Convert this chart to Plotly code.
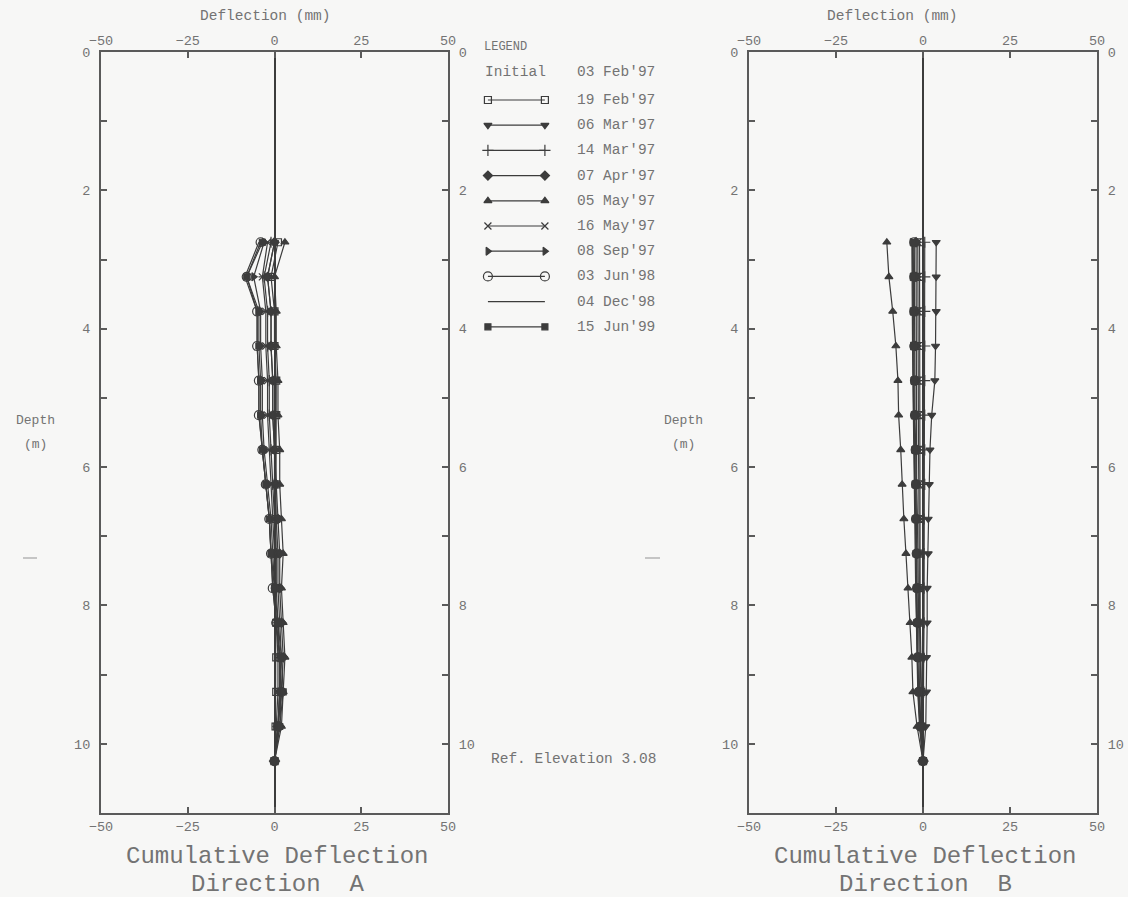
import plotly.graph_objects as go

# Inclinometer reading depths (m)
depths = [2.75, 3.25, 3.75, 4.25, 4.75, 5.25, 5.75, 6.25,
          6.75, 7.25, 7.75, 8.25, 8.75, 9.25, 9.75, 10.25]

initial_date = "03 Feb'97"
survey_dates = ["19 Feb'97", "06 Mar'97", "14 Mar'97", "07 Apr'97", "05 May'97",
                "16 May'97", "08 Sep'97", "03 Jun'98", "04 Dec'98", "15 Jun'99"]

depth_ticks = [0, 1, 2, 3, 4, 5, 6, 7, 8, 9, 10, 11]
depth_tick_text = ["0", "", "2", "", "4", "", "6", "", "8", "", "10", ""]
defl_ticks = [-50, -25, 0, 25, 50]

# Cumulative deflection, direction A (mm)
a_19feb97 = [1.0, -1.0, 0.0, 0.0, 0.5, 0.5, 0.5, 0.5, 0.5, 0.5, 0.5, 0.5, 0.5, 0.5, 0.3, 0.0]
a_06mar97 = [0.0, -2.0, -1.0, -1.0, -0.5, -0.5, 0.0, 0.0, 0.5, 1.0, 1.0, 1.5, 2.0, 1.5, 1.0, 0.0]
a_14mar97 = [-1.0, -3.0, -2.0, -2.0, -1.5, -1.5, -1.0, -0.5, 0.0, 0.5, 0.5, 1.0, 1.5, 1.5, 1.0, 0.0]
a_07apr97 = [0.0, -2.0, -1.0, -1.0, -0.5, -0.5, 0.0, 0.5, 1.0, 1.5, 1.5, 2.0, 2.5, 2.0, 1.5, 0.0]
a_05may97 = [3.0, 0.0, 0.5, 0.5, 1.0, 1.0, 1.5, 1.5, 2.0, 2.5, 2.0, 2.5, 3.0, 2.5, 2.0, 0.0]
a_16may97 = [-2.0, -3.5, -2.5, -2.5, -2.0, -2.0, -1.5, -1.0, -0.5, 0.0, 0.0, 0.5, 1.0, 1.0, 0.5, 0.0]
a_08sep97 = [-3.0, -6.0, -4.0, -4.0, -3.5, -3.5, -3.0, -2.0, -1.0, -0.5, 0.0, 0.5, 1.5, 1.5, 1.0, 0.0]
a_03jun98 = [-4.0, -8.0, -5.0, -5.0, -4.5, -4.5, -3.5, -2.5, -1.5, -1.0, -0.5, 0.5, 1.5, 2.0, 1.0, 0.0]
a_04dec98 = [-4.5, -8.5, -5.0, -5.0, -4.5, -4.5, -3.5, -2.5, -1.5, -1.0, -0.5, 0.5, 1.5, 2.0, 1.0, 0.0]
a_15jun99 = [-3.5, -8.0, -4.5, -4.5, -4.0, -4.0, -3.5, -2.5, -1.5, -1.0, 0.0, 1.0, 2.0, 2.5, 1.5, 0.0]

# Cumulative deflection, direction B (mm)
b_19feb97 = [-1.0, -1.0, -1.0, -1.0, -1.0, -1.0, -1.0, -1.0, -1.0, -1.0, -1.0, -0.8, -0.6, -0.5, -0.3, 0.0]
b_06mar97 = [3.8, 3.8, 3.8, 3.6, 3.4, 2.5, 2.0, 1.8, 1.5, 1.5, 1.2, 1.2, 1.0, 1.0, 0.8, 0.0]
b_14mar97 = [0.5, 0.5, 0.5, 0.5, 0.5, 0.5, 0.5, 0.5, 0.3, 0.3, 0.3, 0.3, 0.2, 0.2, 0.1, 0.0]
b_07apr97 = [-2.0, -2.0, -2.0, -2.0, -2.0, -2.0, -1.8, -1.8, -1.6, -1.5, -1.5, -1.3, -1.2, -1.0, -0.6, 0.0]
b_05may97 = [-10.4, -9.8, -8.7, -7.8, -7.2, -7.0, -6.4, -6.0, -5.5, -4.9, -4.3, -3.7, -3.2, -2.9, -1.7, 0.0]
b_16may97 = [-1.5, -1.5, -1.5, -1.5, -1.5, -1.3, -1.3, -1.2, -1.2, -1.1, -1.0, -1.0, -0.8, -0.7, -0.4, 0.0]
b_08sep97 = [-3.0, -3.0, -3.0, -3.0, -2.8, -2.7, -2.5, -2.4, -2.2, -2.0, -2.0, -1.8, -1.6, -1.4, -0.9, 0.0]
b_03jun98 = [-2.5, -2.5, -2.5, -2.5, -2.3, -2.3, -2.1, -2.0, -2.0, -1.8, -1.7, -1.6, -1.5, -1.2, -0.7, 0.0]
b_04dec98 = [-3.2, -3.2, -3.0, -3.0, -2.9, -2.8, -2.6, -2.5, -2.4, -2.2, -2.1, -1.9, -1.7, -1.5, -1.0, 0.0]
b_15jun99 = [-2.8, -2.8, -2.8, -2.7, -2.6, -2.5, -2.4, -2.3, -2.2, -2.0, -1.9, -1.8, -1.6, -1.3, -0.8, 0.0]

series_a = [a_19feb97, a_06mar97, a_14mar97, a_07apr97, a_05may97,
            a_16may97, a_08sep97, a_03jun98, a_04dec98, a_15jun99]
series_b = [b_19feb97, b_06mar97, b_14mar97, b_07apr97, b_05may97,
            b_16may97, b_08sep97, b_03jun98, b_04dec98, b_15jun99]

INK = "#3c3c3c"
TEXT = "#737373"
FRAME = "#5a5a5a"
MONO = "Liberation Mono, Courier New, monospace"
W, H = 1128, 897

# Marker style for each survey (None = plain line)
marker_styles = [
    dict(symbol="square-open", size=7),
    dict(symbol="triangle-down", size=7),
    dict(symbol="cross-thin-open", size=8),
    dict(symbol="diamond", size=7),
    dict(symbol="triangle-up", size=7),
    dict(symbol="x-thin-open", size=7),
    dict(symbol="triangle-right", size=7),
    dict(symbol="circle-open", size=9),
    None,
    dict(symbol="square", size=6),
]

fig = go.Figure()


def styled_marker(style):
    marker = dict(color=INK, line=dict(color=INK, width=1.2))
    if style is not None:
        marker.update(style)
    return marker


def add_profile(values, date, style, xa, ya):
    fig.add_trace(go.Scatter(
        x=values, y=depths, xaxis=xa, yaxis=ya,
        mode="lines" if style is None else "lines+markers", name=date,
        line=dict(color=INK, width=1.2), marker=styled_marker(style),
        showlegend=False, hovertemplate=date + ": %{x} mm at %{y} m<extra></extra>",
    ))


for vals, date, st in zip(series_a, survey_dates, marker_styles):
    add_profile(vals, date, st, "x", "y")
for vals, date, st in zip(series_b, survey_dates, marker_styles):
    add_profile(vals, date, st, "x2", "y2")

# empty traces so the mirrored label axes are drawn
for xa, ya in [("x3", "y"), ("x", "y3"), ("x4", "y2"), ("x2", "y4")]:
    fig.add_trace(go.Scatter(x=[None], y=[None], xaxis=xa, yaxis=ya,
                             showlegend=False, hoverinfo="skip"))

# Legend panel: one sample line per survey, markers at both ends
for k, st in enumerate(marker_styles):
    fig.add_trace(go.Scatter(
        x=[0.036, 0.295], y=[k, k], xaxis="x5", yaxis="y5",
        mode="lines" if st is None else "lines+markers",
        line=dict(color=INK, width=1.2), marker=styled_marker(st),
        showlegend=False, hoverinfo="skip",
    ))

tick_font = dict(family=MONO, size=13.5, color=TEXT)

x_common = dict(range=[-50, 50], tickvals=defl_ticks, ticks="inside", ticklen=6,
                tickwidth=1.5, tickcolor=FRAME, showline=True, linecolor=FRAME,
                linewidth=2, showgrid=False, tickfont=tick_font, fixedrange=True,
                automargin=False)
y_common = dict(range=[11, 0], tickvals=depth_ticks, ticktext=depth_tick_text,
                ticks="inside", ticklen=6, tickwidth=1.5, tickcolor=FRAME,
                showline=True, linecolor=FRAME, linewidth=2, showgrid=False,
                zeroline=False, tickfont=tick_font, fixedrange=True,
                ticklabelstandoff=6, automargin=False)

dom_a = [101 / W, 448 / W]
dom_b = [749 / W, 1097 / W]
dom_y = [1 - 813 / H, 1 - 52 / H]

fig.update_layout(
    width=W, height=H,
    margin=dict(l=0, r=0, t=0, b=0, pad=0, autoexpand=False),
    paper_bgcolor="#f7f7f6", plot_bgcolor="#f7f7f6",
    font=dict(family=MONO, color=TEXT),
    xaxis=dict(domain=dom_a, anchor="y", side="bottom", zeroline=True,
               zerolinecolor=INK, zerolinewidth=2, **x_common),
    xaxis3=dict(overlaying="x", anchor="y", side="top", zeroline=False, **x_common),
    yaxis=dict(domain=dom_y, anchor="x", side="left", **y_common),
    yaxis3=dict(overlaying="y", anchor="x", side="right", **y_common),
    xaxis2=dict(domain=dom_b, anchor="y2", side="bottom", zeroline=True,
                zerolinecolor=INK, zerolinewidth=2, **x_common),
    xaxis4=dict(overlaying="x2", anchor="y2", side="top", zeroline=False, **x_common),
    yaxis2=dict(domain=dom_y, anchor="x2", side="left", **y_common),
    yaxis4=dict(overlaying="y2", anchor="x2", side="right", **y_common),
    xaxis5=dict(domain=[480 / W, 700 / W], range=[0, 1], visible=False,
                fixedrange=True, automargin=False),
    yaxis5=dict(domain=[1 - 340 / H, 1 - 30 / H], range=[9.524, -2.778],
                visible=False, fixedrange=True, anchor="x5", automargin=False),
)


def label(text, px, py, size, anchor="center"):
    return dict(text=text, x=px / W, y=1 - py / H, xref="paper", yref="paper",
                xanchor=anchor, yanchor="middle", showarrow=False,
                font=dict(family=MONO, size=size, color=TEXT))


ann = []
# legend texts
ann.append(dict(text="LEGEND", x=0.01, y=-2.1, xref="x5", yref="y5",
                xanchor="left", yanchor="middle", showarrow=False,
                font=dict(family=MONO, size=12, color=TEXT)))
ann.append(dict(text="Initial", x=0.015, y=-1.1, xref="x5", yref="y5",
                xanchor="left", yanchor="middle", showarrow=False,
                font=dict(family=MONO, size=14.5, color=TEXT)))
ann.append(dict(text=initial_date, x=0.43, y=-1.1, xref="x5", yref="y5",
                xanchor="left", yanchor="middle", showarrow=False,
                font=dict(family=MONO, size=14.5, color=TEXT)))
for k, date in enumerate(survey_dates):
    ann.append(dict(text=date, x=0.43, y=k, xref="x5", yref="y5",
                    xanchor="left", yanchor="middle", showarrow=False,
                    font=dict(family=MONO, size=14.5, color=TEXT)))

ann.append(label("Ref. Elevation 3.08", 489, 759, 14.5, anchor="left"))

for cx, title_x, depth_x, direction in [(275, 265, 35, "A"), (923, 892, 683, "B")]:
    ann.append(label("Deflection (mm)", title_x, 16, 14.5))
    ann.append(label("Depth", depth_x, 420, 13))
    ann.append(label("(m)", depth_x, 444, 13))
    ann.append(label("Cumulative Deflection", cx + 2, 856, 24))
    ann.append(label("Direction  " + direction, cx + 2, 884, 24))

fig.update_layout(annotations=ann)

# faint punch marks in the left margins
for x0, x1 in [(23, 37), (645, 660)]:
    fig.add_shape(type="line", xref="paper", yref="paper",
                  x0=x0 / W, x1=x1 / W, y0=1 - 558 / H, y1=1 - 558 / H,
                  line=dict(color="#b5b5b5", width=1.5))

fig.write_html("out.html")
